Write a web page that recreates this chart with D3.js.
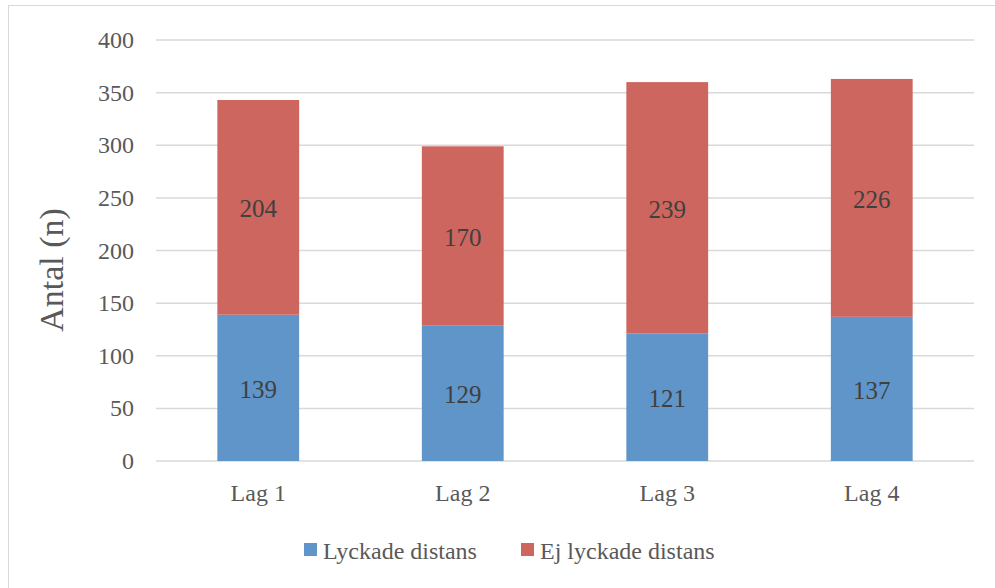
<!DOCTYPE html>
<html>
<head>
<meta charset="utf-8">
<script src="https://cdn.jsdelivr.net/npm/d3@7"></script>
<style>
  body { margin: 0; background: white; }
  text { font-family: "Liberation Serif", "DejaVu Serif", serif; }
</style>
</head>
<body>
<div id="container"></div>
<script>
let categories = ["Lag 1", "Lag 2", "Lag 3", "Lag 4"];
let seriesNames = ["Lyckade distans", "Ej lyckade distans"];
let lyckade = [139, 129, 121, 137];
let ejLyckade = [204, 170, 239, 226];
let yTicks = [0, 50, 100, 150, 200, 250, 300, 350, 400];

let w = 995;
let h = 588;

let colors = ["#5F95C9", "#CC665F"];

let viz = d3.select("#container")
  .append("svg")
    .attr("width", w)
    .attr("height", h)
    .style("background-color", "white")
;

// outer chart border (right/bottom edges fall outside the picture)
viz.append("rect")
    .attr("x", 8.5)
    .attr("y", 5.5)
    .attr("width", w)
    .attr("height", h)
    .attr("fill", "none")
    .attr("stroke", "#d9d9d9")
    .attr("stroke-width", 1)
;

let xScale = d3.scaleBand().domain(categories).range([156, 974]).paddingInner(0.6).paddingOuter(0.3);
let yScale = d3.scaleLinear().domain([0, 400]).range([461, 40]);

// gridlines
viz.append("g").selectAll("line").data(yTicks).enter()
  .append("line")
    .attr("x1", 156)
    .attr("x2", 974)
    .attr("y1", d => yScale(d))
    .attr("y2", d => yScale(d))
    .attr("stroke", "#d9d9d9")
    .attr("stroke-width", 1.5)
;

// y tick labels
viz.append("g").selectAll("text").data(yTicks).enter()
  .append("text")
    .text(d => d)
    .attr("x", 134)
    .attr("y", d => yScale(d) + 8)
    .attr("text-anchor", "end")
    .attr("fill", "#595959")
    .style("font-size", "24px")
;

// axis title
viz.append("text")
    .text("Antal (n)")
    .attr("transform", "translate(63,270) rotate(-90)")
    .attr("text-anchor", "middle")
    .attr("fill", "#595959")
    .style("font-size", "34px")
;

let rows = categories.map((c, i) => ({cat: c, a: lyckade[i], b: ejLyckade[i]}));
let stacked = d3.stack().keys(["a", "b"])(rows);

let layers = viz.selectAll(".layer").data(stacked).enter()
  .append("g")
    .classed("layer", true)
    .attr("fill", (d, i) => colors[i])
;

layers.selectAll("rect").data(d => d).enter()
  .append("rect")
    .attr("x", d => xScale(d.data.cat))
    .attr("width", xScale.bandwidth())
    .attr("y", d => yScale(d[1]))
    .attr("height", d => yScale(d[0]) - yScale(d[1]))
;

layers.selectAll("text").data(d => d).enter()
  .append("text")
    .text(d => d[1] - d[0])
    .attr("x", d => xScale(d.data.cat) + xScale.bandwidth() / 2)
    .attr("y", d => (yScale(d[0]) + yScale(d[1])) / 2 + 10)
    .attr("text-anchor", "middle")
    .attr("fill", "#404040")
    .style("font-size", "25px")
;

// x labels
viz.append("g").selectAll("text").data(categories).enter()
  .append("text")
    .text(d => d)
    .attr("x", d => xScale(d) + xScale.bandwidth() / 2)
    .attr("y", 501)
    .attr("text-anchor", "middle")
    .attr("fill", "#595959")
    .style("font-size", "24px")
;

// legend
let legendX = [304, 521];
let legend = viz.selectAll(".legend").data(seriesNames).enter()
  .append("g")
    .classed("legend", true)
    .attr("transform", (d, i) => "translate(" + legendX[i] + ",543)")
;
legend.append("rect")
    .attr("x", 0)
    .attr("y", 0)
    .attr("width", 13)
    .attr("height", 13)
    .attr("fill", (d, i) => colors[i])
;
legend.append("text")
    .text(d => d)
    .attr("x", 19)
    .attr("y", 16)
    .attr("fill", "#595959")
    .style("font-size", "24px")
;
</script>
</body>
</html>
